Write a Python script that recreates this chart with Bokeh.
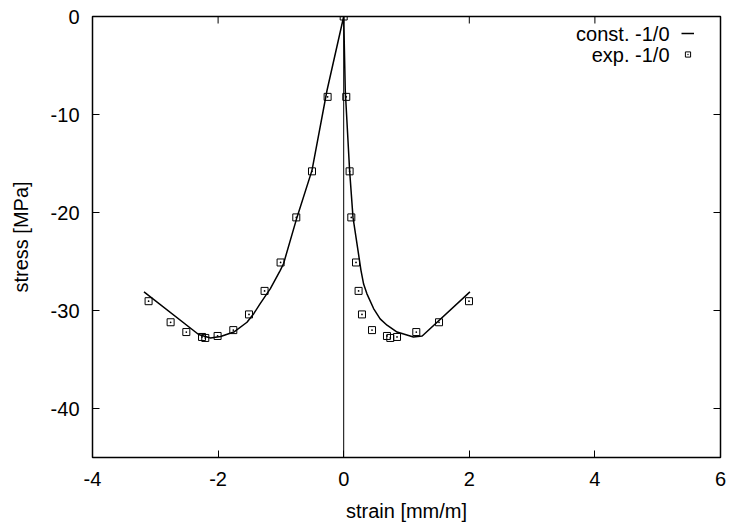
import math
from bokeh.plotting import figure
from bokeh.models import FixedTicker, Span, Label, Legend, LegendItem, Range1d
from bokeh.embed import file_html
from bokeh.resources import INLINE

# ---- data ----
# model curve "const. -1/0": left branch -> peak -> right branch
model_strain = [-3.18, -2.31, -2.12, -1.96, -1.75, -1.54, -1.43, -1.33, -1.17,
                -1.01, -0.957, -0.744, -0.505, -0.266, 0.0,
                0.025, 0.094, 0.148, 0.228, 0.275, 0.317, 0.37, 0.476, 0.58,
                0.69, 0.85, 0.954, 1.11, 1.25, 2.01]
model_stress = [-28.1, -32.45, -32.8, -32.65, -32.2, -31.2, -30.3, -29.3, -27.8,
                -25.9, -25.2, -20.5, -15.7, -7.55, 0.0,
                -7.55, -15.7, -20.5, -23.9, -25.9, -27.3, -28.3, -29.8, -30.85,
                -31.5, -32.2, -32.4, -32.7, -32.6, -28.1]

# experimental points "exp. -1/0"
exp_strain = [-3.107, -2.756, -2.506, -2.256, -2.204, -2.008, -1.758, -1.508,
              -1.260, -1.005, -0.755, -0.505, -0.256, 0.0,
              0.041, 0.094, 0.121, 0.196, 0.237, 0.291, 0.451, 0.689, 0.742,
              0.849, 1.156, 1.518, 1.995]
exp_stress = [-29.05, -31.2, -32.2, -32.7, -32.8, -32.6, -32.0, -30.4,
              -28.0, -25.1, -20.5, -15.8, -8.2, 0.0,
              -8.2, -15.8, -20.5, -25.1, -28.0, -30.4, -32.0, -32.6, -32.8,
              -32.7, -32.2, -31.2, -29.05]

x_ticks = [-4, -2, 0, 2, 4, 6]
y_ticks = [-40, -30, -20, -10, 0]
x_limits = (-4, 6)
y_limits = (-45, 0)
legend_labels = ["const. -1/0", "exp. -1/0"]
x_title = "strain [mm/m]"
y_title = "stress [MPa]"

FONT = "Liberation Sans"

p = figure(width=731, height=529, output_backend="svg", toolbar_location=None,
           x_range=Range1d(*x_limits), y_range=Range1d(*y_limits),
           min_border_left=92, min_border_right=11, min_border_top=16,
           min_border_bottom=72)
p.xgrid.visible = False
p.ygrid.visible = False
p.outline_line_color = "black"
p.outline_line_width = 1.5
p.background_fill_color = "white"
p.border_fill_color = "white"


def style_axis(ax, ticks):
    ax.ticker = FixedTicker(ticks=ticks)
    ax.major_label_overrides = {t: str(t) for t in ticks}
    ax.axis_line_color = None
    ax.major_tick_in = 7
    ax.major_tick_out = 0
    ax.minor_tick_line_color = None
    ax.major_tick_line_color = "black"
    ax.major_tick_line_width = 1
    ax.major_label_text_font = FONT
    ax.major_label_text_color = "black"
    ax.major_label_text_font_size = "20px"
    ax.axis_label_text_font = FONT
    ax.axis_label_text_font_style = "normal"
    ax.axis_label_text_color = "black"
    ax.axis_label_text_font_size = "20px"


xa = p.xaxis[0]
ya = p.yaxis[0]
style_axis(xa, x_ticks)
style_axis(ya, y_ticks)
xa.axis_label = x_title
ya.axis_label = y_title
xa.major_label_standoff = 14
xa.axis_label_standoff = 11
ya.major_label_standoff = 13
ya.axis_label_standoff = 16

# mirrored ticks on top and right edges (gnuplot style)
p.ray(x=x_ticks, y=y_limits[1], length=7, length_units="screen",
      angle=-math.pi / 2, line_color="black", line_width=1)
p.ray(x=x_limits[1], y=y_ticks, length=7, length_units="screen",
      angle=math.pi, line_color="black", line_width=1)

# zero axis
p.add_layout(Span(location=0, dimension="height", line_color="black",
                  line_width=1))

r_line = p.line(model_strain, model_stress, line_color="black", line_width=1.5)
r_pts = p.scatter(exp_strain, exp_stress, marker="square_dot", size=7,
                  fill_color=None, line_color="black", line_width=1)

# gnuplot-style key: text on the left, sample on the right
legend = Legend(items=[LegendItem(label="", renderers=[r_line]),
                       LegendItem(label="", renderers=[r_pts])],
                location=(589, 393), glyph_width=13, glyph_height=20,
                label_width=0, label_height=20, label_standoff=0,
                padding=0, margin=0, spacing=1, border_line_color=None,
                background_fill_alpha=0, label_text_font=FONT,
                label_text_font_size="20px")
p.add_layout(legend)

for lbl, yy in zip(legend_labels, [424, 403]):
    p.add_layout(Label(x=577, y=yy, x_units="screen", y_units="screen",
                       text=lbl, text_align="right", text_baseline="middle",
                       text_font=FONT, text_font_size="20px",
                       text_color="black"))

open("out.html", "w").write(file_html(p, INLINE))
